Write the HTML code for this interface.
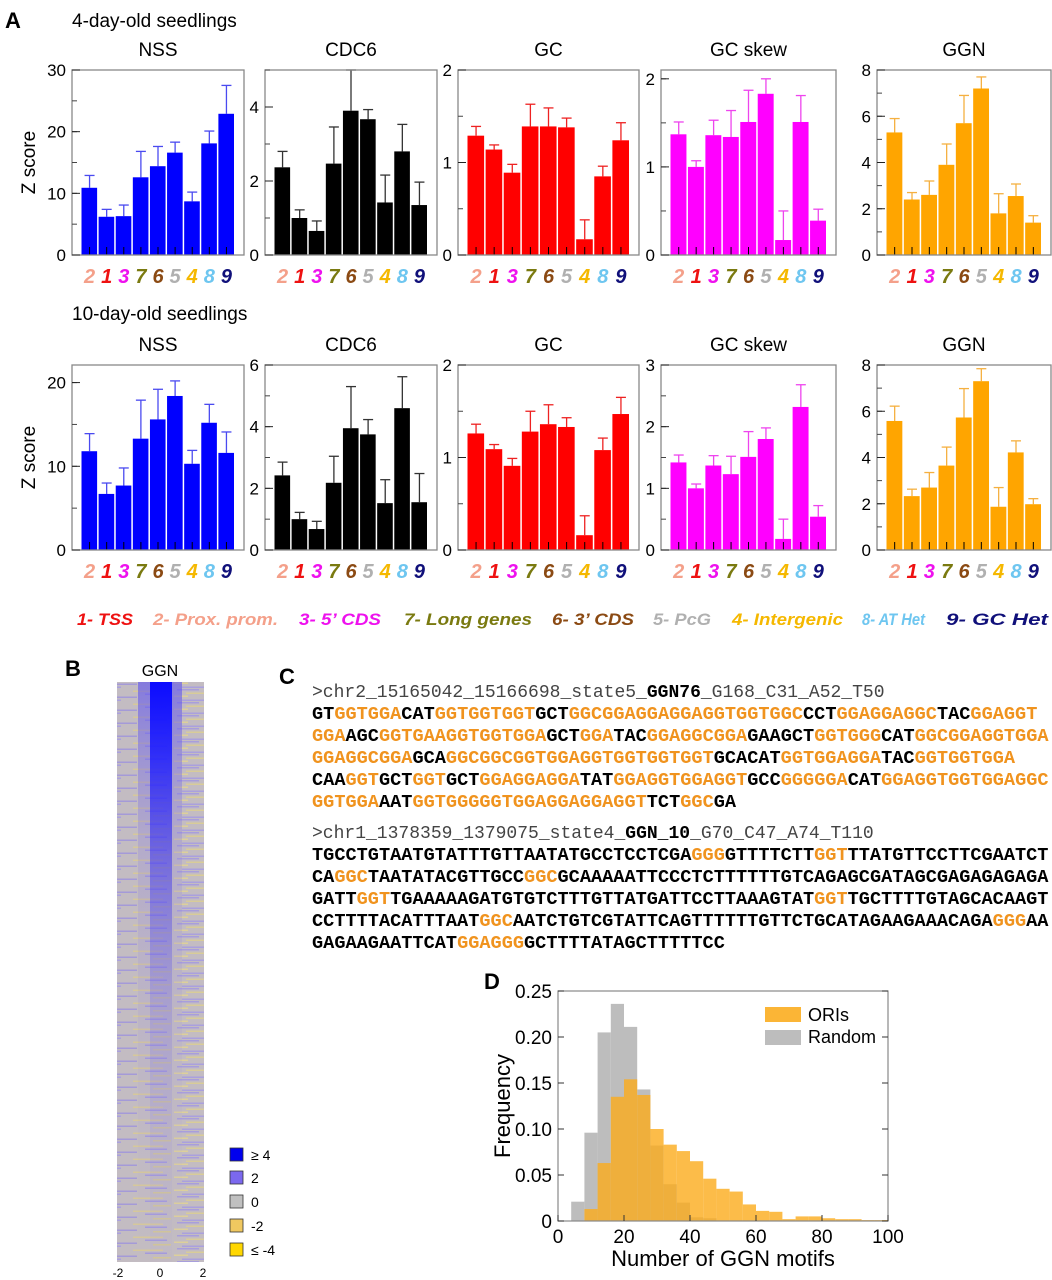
<!DOCTYPE html>
<html><head><meta charset="utf-8"><style>
html,body{margin:0;padding:0;background:#fff;}
svg{display:block;font-family:"Liberation Sans",Arial,sans-serif;}
</style></head><body>
<svg id="fig" width="1052" height="1280" viewBox="0 0 1052 1280" xmlns="http://www.w3.org/2000/svg">
<defs>
<linearGradient id="stripeGrad" x1="0" y1="0" x2="0" y2="1">
<stop offset="0" stop-color="#0c0cff" stop-opacity="1"/>
<stop offset="0.12" stop-color="#1a1aff" stop-opacity="0.85"/>
<stop offset="0.3" stop-color="#3a30f0" stop-opacity="0.55"/>
<stop offset="0.55" stop-color="#7a6ee0" stop-opacity="0.3"/>
<stop offset="1" stop-color="#a99ed8" stop-opacity="0.05"/>
</linearGradient>
<linearGradient id="haloGrad" x1="0" y1="0" x2="0" y2="1">
<stop offset="0" stop-color="#5a4ef0" stop-opacity="0.6"/>
<stop offset="0.3" stop-color="#8a7ee0" stop-opacity="0.25"/>
<stop offset="1" stop-color="#a99ed8" stop-opacity="0"/>
</linearGradient>
<pattern id="rowsPat" width="87" height="13" patternUnits="userSpaceOnUse">
<rect width="87" height="13" fill="#c3bcc2"/>
<rect x="3" y="0" width="22" height="1.5" fill="#a89edc"/>
<rect x="46" y="1.5" width="30" height="1.5" fill="#d6c89a"/>
<rect x="12" y="3.5" width="18" height="1.5" fill="#d8cc98"/>
<rect x="58" y="4.5" width="22" height="1.5" fill="#a49adc"/>
<rect x="0" y="6.5" width="14" height="1.5" fill="#ddd09a"/>
<rect x="30" y="7.5" width="20" height="1.5" fill="#a49ad8"/>
<rect x="66" y="9" width="18" height="1.5" fill="#d4c894"/>
<rect x="8" y="10.5" width="26" height="1.5" fill="#aaa0de"/>
</pattern>
</defs>
<g id="partA"></g>
<g id="partB"></g>
<g id="partC"></g>
<g id="partD"></g>
</svg>
<script>
// ---------- Panel A data ----------
const categories = ['2','1','3','7','6','5','4','8','9'];
const catColors = ['#f4a08a','#ee1111','#ee11ee','#7a7a10','#8b4a13','#b0b0b0','#f5b800','#6ec6f0','#10107a'];
const panelTitles = ['NSS','CDC6','GC','GC skew','GGN'];
const nss4 = [10.9,6.2,6.3,12.6,14.4,16.6,8.7,18.1,22.9];
const nss4Err = [12.9,7.4,8.1,16.8,17.6,18.3,10.2,20.1,27.5];
const cdc4 = [2.37,1.0,0.65,2.47,3.9,3.67,1.42,2.8,1.35];
const cdc4Err = [2.8,1.22,0.92,3.46,5.0,3.93,2.16,3.53,1.97];
const gc4 = [1.29,1.14,0.89,1.39,1.39,1.38,0.17,0.85,1.24];
const gc4Err = [1.39,1.19,0.98,1.63,1.59,1.48,0.38,0.96,1.43];
const skew4 = [1.37,1.0,1.36,1.34,1.51,1.83,0.17,1.51,0.39];
const skew4Err = [1.51,1.07,1.53,1.64,1.87,2.0,0.5,1.81,0.52];
const ggn4 = [5.3,2.4,2.6,3.9,5.7,7.2,1.8,2.55,1.4];
const ggn4Err = [5.9,2.7,3.2,4.8,6.9,7.7,2.65,3.07,1.7];
const nss10 = [11.8,6.7,7.7,13.3,15.6,18.4,10.3,15.2,11.6];
const nss10Err = [13.9,8.0,9.8,17.9,19.2,20.2,11.9,17.4,14.1];
const cdc10 = [2.42,1.0,0.68,2.18,3.95,3.75,1.52,4.6,1.55];
const cdc10Err = [2.85,1.22,0.93,3.04,5.3,4.23,2.28,5.62,2.48];
const gc10 = [1.26,1.09,0.91,1.28,1.36,1.33,0.16,1.08,1.47];
const gc10Err = [1.36,1.14,0.99,1.5,1.57,1.43,0.37,1.21,1.65];
const skew10 = [1.42,1.0,1.37,1.23,1.51,1.8,0.18,2.32,0.54];
const skew10Err = [1.54,1.07,1.53,1.52,1.92,1.98,0.5,2.68,0.72];
const ggn10 = [5.58,2.33,2.7,3.65,5.73,7.3,1.87,4.22,1.98];
const ggn10Err = [6.22,2.63,3.35,4.45,6.98,7.84,2.7,4.72,2.22];
const ymax4 = [30,5,2,2.1,8];
const ymax10 = [22.1,6,2,3,8];
const ticks4 = [[0,10,20,30],[0,2,4],[0,1,2],[0,1,2],[0,2,4,6,8]];
const ticks10 = [[0,10,20],[0,2,4,6],[0,1,2],[0,1,2,3],[0,2,4,6,8]];
const minor4 = [5,1,0.5,0.5,1];
const minor10 = [5,1,0.5,0.5,1];
const legendLabels = ['1- TSS','2- Prox. prom.','3- 5\u2019 CDS','7- Long genes','6- 3\u2019 CDS','5- PcG','4- Intergenic','8- AT Het','9- GC Het'];
const legendColors = ['#ee1111','#f4a08a','#ee11ee','#7a7a10','#8b4a13','#b0b0b0','#f5b800','#6ec6f0','#10107a'];
// ---------- Panel D data ----------
const binEdgesStart = 0;
const binWidthVal = 4;
const randomFreq = [0,0.021,0.096,0.205,0.236,0.211,0.143,0.082,0.040,0.020,0.004,0.003,0,0,0,0,0,0,0,0,0,0,0,0,0];
const oriFreq = [0,0,0.013,0.063,0.135,0.154,0.137,0.100,0.083,0.076,0.065,0.046,0.035,0.032,0.018,0.011,0.010,0.002,0.005,0.005,0.003,0.002,0.002,0.001,0.001];
const histYTicks = [0,0.05,0.10,0.15,0.20,0.25];
const histYLabels = ['0','0.05','0.10','0.15','0.20','0.25'];
const histXTicks = [0,20,40,60,80,100];

const NS='http://www.w3.org/2000/svg';
function mk(tag, attrs, parent){const e=document.createElementNS(NS,tag);for(const k in attrs)e.setAttribute(k,attrs[k]);parent.appendChild(e);return e;}
function txt(parent,x,y,s,attrs){const e=mk('text',Object.assign({x:x,y:y},attrs||{}),parent);e.textContent=s;return e;}

// ---------- Panel A ----------
const A=document.getElementById('partA');
let t;
t=txt(A,5,28,'A',{'font-size':22,'font-weight':'bold'});


t=txt(A,72,27,'4-day-old seedlings',{'font-size':19});


t=txt(A,72,320,'10-day-old seedlings',{'font-size':19});



const frames=[[72,244],[265,437],[458,639],[661,836],[877,1051]];
const barColors=['#0000ff','#000000','#ff0000','#ff00ff','#ffa500'];
const errColors=['#4a4af0','#333333','#ee2222','#ee44ee','#f5b040'];
const rows=[
 {top:70,bot:255,vals:[nss4,cdc4,gc4,skew4,ggn4],errs:[nss4Err,cdc4Err,gc4Err,skew4Err,ggn4Err],ymax:ymax4,ticks:ticks4,minor:minor4,tag:'4day'},
 {top:365,bot:550,vals:[nss10,cdc10,gc10,skew10,ggn10],errs:[nss10Err,cdc10Err,gc10Err,skew10Err,ggn10Err],ymax:ymax10,ticks:ticks10,minor:minor10,tag:'10day'}
];
rows.forEach(function(r){
 t=txt(A,35,(r.top+r.bot)/2,'Z score',{'font-size':19,'text-anchor':'middle',transform:'rotate(-90 35 '+((r.top+r.bot)/2)+')'});
 
 
 for(let p=0;p<5;p++){
  const g=mk('g',{},A);
  
  
  const x0=frames[p][0], x1=frames[p][1];
  const ys=function(v){return r.bot-(v/r.ymax[p])*(r.bot-r.top);};
  const pad=9, slot=(x1-x0-2*pad)/categories.length;
  const xs=function(i){return x0+pad+slot*i;};
  t=txt(g,(x0+x1)/2,r.top-14,panelTitles[p],{'font-size':19,'text-anchor':'middle'});
  
  
  categories.forEach(function(c,i){
   const v=r.vals[p][i], e=r.errs[p][i];
   const bx=xs(i)+0.5, bw=slot-1.5, cx=xs(i)+slot/2;
   const eb=mk('line',{x1:cx,x2:cx,y1:ys(v),y2:ys(e),stroke:errColors[p],'stroke-width':1.3},g);
   
   
   const cap=mk('line',{x1:cx-5,x2:cx+5,y1:ys(e),y2:ys(e),stroke:errColors[p],'stroke-width':1.3},g);
   
   
   const b=mk('rect',{x:bx,y:ys(v),width:bw,height:r.bot-ys(v),fill:barColors[p]},g);
   
   
   const tk=mk('line',{x1:cx,x2:cx,y1:r.bot,y2:r.bot-8,stroke:'#000','stroke-width':1},g);
   
   
   const lb=txt(g,cx,r.bot+28,c,{'font-size':20,'font-weight':'bold','font-style':'italic','text-anchor':'middle',fill:catColors[i]});
   
   
  });
  const fr=mk('rect',{x:x0,y:r.top,width:x1-x0,height:r.bot-r.top,fill:'none',stroke:'#888','stroke-width':1.3},g);
  
  
  for(let v=0;v<=r.ymax[p]+1e-9;v+=r.minor[p]){
   const m=mk('line',{x1:x0,x2:x0+5,y1:ys(v),y2:ys(v),stroke:'#444','stroke-width':1},g);
   
   
  }
  r.ticks[p].forEach(function(v){
   const m=mk('line',{x1:x0,x2:x0+8,y1:ys(v),y2:ys(v),stroke:'#222','stroke-width':1},g);
   
   
   const l=txt(g,x0-6,ys(v)+6,String(v),{'font-size':17,'text-anchor':'end'});
   
   
  });
 }
});
const legX=[77,153,299,404,552,653,732,862,946];
const legW=[56,125,82,128,82,58,111,63,102];
legendLabels.forEach(function(s,i){
 const l=txt(A,legX[i],625,s,{'font-size':17,'font-weight':'bold','font-style':'italic',fill:legendColors[i],textLength:legW[i],lengthAdjust:'spacingAndGlyphs'});
 
 
});

// ---------- Panel B ----------
const B=document.getElementById('partB');
t=txt(B,65,676,'B',{'font-size':22,'font-weight':'bold'});


t=txt(B,160,676,'GGN',{'font-size':16,'text-anchor':'middle'});


let hm=mk('rect',{x:117,y:682,width:87,height:580,fill:'url(#rowsPat)'},B);


hm=mk('rect',{x:138,y:682,width:44,height:580,fill:'url(#haloGrad)'},B);


hm=mk('rect',{x:150,y:682,width:22,height:580,fill:'url(#stripeGrad)'},B);


const hkLabels=['\u2265 4','2','0','-2','\u2264 -4'];
const hkColors=['#0000ee','#7b68ee','#c0c0c0','#f0c860','#ffd700'];
const hkY=[1148,1171,1195,1219,1243];
hkLabels.forEach(function(s,i){
 const r=mk('rect',{x:230,y:hkY[i],width:13,height:13,fill:hkColors[i],stroke:'#333','stroke-width':0.8},B);
 
 
 const l=txt(B,251,hkY[i]+12,s,{'font-size':14});
 
 
});
[['-2',118],['0',160],['2',203]].forEach(function(a){
 const l=txt(B,a[1],1277,a[0],{'font-size':12,'text-anchor':'middle'});
 
 
});

// ---------- Panel C ----------
const C=document.getElementById('partC');
t=txt(C,279,684,'C',{'font-size':22,'font-weight':'bold'});


const O='#f0931e', K='#000';
function seqLine(y,segs){
 const e=mk('text',{x:312,y:y,'font-family':'"Liberation Mono",monospace','font-size':18.6,'font-weight':'bold'},C);
 
 
 segs.forEach(function(s){const ts=mk('tspan',{fill:s[0]},e);ts.textContent=s[1];});
}
function header(y,a,b,c){
 const e=mk('text',{x:312,y:y,'font-family':'"Liberation Mono",monospace','font-size':18,fill:'#444'},C);
 
 
 let ts=mk('tspan',{},e);ts.textContent=a;
 ts=mk('tspan',{'font-weight':'bold',fill:'#000'},e);ts.textContent=b;
 ts=mk('tspan',{},e);ts.textContent=c;
}
header(697,'>chr2_15165042_15166698_state5_','GGN76','_G168_C31_A52_T50');
seqLine(719,[[K,'GT'],[O,'GGTGGA'],[K,'CAT'],[O,'GGTGGTGGT'],[K,'GCT'],[O,'GGCGGAGGAGGAGGTGGTGGC'],[K,'CCT'],[O,'GGAGGAGGC'],[K,'TAC'],[O,'GGAGGT']]);
seqLine(741,[[O,'GGA'],[K,'AGC'],[O,'GGTGAAGGTGGTGGA'],[K,'GCT'],[O,'GGA'],[K,'TAC'],[O,'GGAGGCGGA'],[K,'GAAGCT'],[O,'GGTGGG'],[K,'CAT'],[O,'GGCGGAGGTGGA']]);
seqLine(763,[[O,'GGAGGCGGA'],[K,'GCA'],[O,'GGCGGCGGTGGAGGTGGTGGTGGT'],[K,'GCACAT'],[O,'GGTGGAGGA'],[K,'TAC'],[O,'GGTGGTGGA']]);
seqLine(785,[[K,'CAA'],[O,'GGT'],[K,'GCT'],[O,'GGT'],[K,'GCT'],[O,'GGAGGAGGA'],[K,'TAT'],[O,'GGAGGTGGAGGT'],[K,'GCC'],[O,'GGGGGA'],[K,'CAT'],[O,'GGAGGTGGTGGAGGC']]);
seqLine(807,[[O,'GGTGGA'],[K,'AAT'],[O,'GGTGGGGGTGGAGGAGGAGGT'],[K,'TCT'],[O,'GGC'],[K,'GA']]);
header(838,'>chr1_1378359_1379075_state4_','GGN_10','_G70_C47_A74_T110');
seqLine(860,[[K,'TGCCTGTAATGTATTTGTTAATATGCCTCCTCGA'],[O,'GGG'],[K,'GTTTTCTT'],[O,'GGT'],[K,'TTATGTTCCTTCGAATCT']]);
seqLine(882,[[K,'CA'],[O,'GGC'],[K,'TAATATACGTTGCC'],[O,'GGC'],[K,'GCAAAAATTCCCTCTTTTTTGTCAGAGCGATAGCGAGAGAGAGA']]);
seqLine(904,[[K,'GATT'],[O,'GGT'],[K,'TGAAAAAGATGTGTCTTTGTTATGATTCCTTAAAGTAT'],[O,'GGT'],[K,'TGCTTTTGTAGCACAAGT']]);
seqLine(926,[[K,'CCTTTTACATTTAAT'],[O,'GGC'],[K,'AATCTGTCGTATTCAGTTTTTTGTTCTGCATAGAAGAAACAGA'],[O,'GGG'],[K,'AA']]);
seqLine(948,[[K,'GAGAAGAATTCAT'],[O,'GGAGGG'],[K,'GCTTTTATAGCTTTTTCC']]);

// ---------- Panel D ----------
const D=document.getElementById('partD');
t=txt(D,484,989,'D',{'font-size':22,'font-weight':'bold'});


const hx0=558,hx1=888,hy0=1221,hy1=991;
const hxs=function(v){return hx0+(v/100)*(hx1-hx0);};
const hys=function(v){return hy0-(v/0.25)*(hy0-hy1);};
randomFreq.forEach(function(f,i){
 if(f<=0)return;
 const a=binEdgesStart+i*binWidthVal;
 const r=mk('rect',{x:hxs(a),y:hys(f),width:hxs(a+binWidthVal)-hxs(a),height:hy0-hys(f),fill:'#bdbdbd'},D);
 
 
});
oriFreq.forEach(function(f,i){
 if(f<=0)return;
 const a=binEdgesStart+i*binWidthVal;
 const r=mk('rect',{x:hxs(a),y:hys(f),width:hxs(a+binWidthVal)-hxs(a),height:hy0-hys(f),fill:'#fbab1c','fill-opacity':0.8},D);
 
 
});
const hf=mk('rect',{x:hx0,y:hy1,width:hx1-hx0,height:hy0-hy1,fill:'none',stroke:'#888','stroke-width':1.2},D);


histYTicks.forEach(function(v,i){
 const m=mk('line',{x1:hx0,x2:hx0+6,y1:hys(v),y2:hys(v),stroke:'#333'},D);
 
 
 const m2=mk('line',{x1:hx1,x2:hx1-6,y1:hys(v),y2:hys(v),stroke:'#333'},D);
 
 
 const l=txt(D,hx0-6,hys(v)+7,histYLabels[i],{'font-size':19,'text-anchor':'end'});
 
 
});
histXTicks.forEach(function(v){
 const m=mk('line',{x1:hxs(v),x2:hxs(v),y1:hy0,y2:hy0-6,stroke:'#333'},D);
 
 
 const l=txt(D,hxs(v),hy0+22,String(v),{'font-size':19,'text-anchor':'middle'});
 
 
});
t=txt(D,723,1266,'Number of GGN motifs',{'font-size':22,'text-anchor':'middle'});


t=txt(D,510,1106,'Frequency',{'font-size':22,'text-anchor':'middle',transform:'rotate(-90 510 1106)'});


let lg=mk('rect',{x:765,y:1007,width:36,height:15,fill:'#fbb536'},D);


lg=mk('rect',{x:765,y:1030,width:36,height:15,fill:'#bdbdbd'},D);


t=txt(D,808,1021,'ORIs',{'font-size':18});


t=txt(D,808,1043,'Random',{'font-size':18});


</script>
</body></html>
